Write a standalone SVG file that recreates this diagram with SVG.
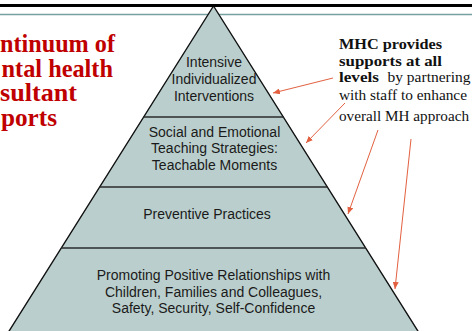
<svg xmlns="http://www.w3.org/2000/svg" width="472" height="331" viewBox="0 0 472 331">
  <style>
    .tier { fill: #bacfcd; stroke: none; }
    .edge { fill: none; stroke: #111; stroke-width: 1.4; }
    .sep { stroke: #2a2a2a; stroke-width: 1.4; }
    .lbl { font-family: "Liberation Sans", Arial, sans-serif; font-size: 14px; fill: #1a1a1a; text-anchor: middle; }
    .title { font-family: "Liberation Serif", "Times New Roman", serif; font-weight: bold; font-size: 24.5px; fill: #c00000; }
    .note { font-family: "Liberation Serif", "Times New Roman", serif; font-size: 14.5px; fill: #111; }
    .b { font-weight: bold; }
    .conn { stroke: #e2603f; stroke-width: 1; fill: none; marker-end: url(#head); }
  </style>
  <defs>
    <marker id="head" markerUnits="userSpaceOnUse" markerWidth="7" markerHeight="6" refX="7" refY="3" orient="auto">
      <path d="M0,0 L7,3 L0,6 Z" fill="#e2603f"/>
    </marker>
  </defs>

  <rect width="472" height="331" fill="#ffffff"/>

  <!-- header rule (thin) -->
  <line x1="0" y1="14.5" x2="472" y2="14.5" stroke="#77a0a0" stroke-width="1.5"/>

  <!-- title, clipped by the left edge -->
  <g id="title">
    <text class="title" x="0" y="51.5" textLength="115" lengthAdjust="spacingAndGlyphs">ntinuum of</text>
    <text class="title" x="1.5" y="76.5" textLength="111.5" lengthAdjust="spacingAndGlyphs">ntal health</text>
    <text class="title" x="0" y="101" textLength="77" lengthAdjust="spacingAndGlyphs">sultant</text>
    <text class="title" x="1" y="126" textLength="56" lengthAdjust="spacingAndGlyphs">ports</text>
  </g>

  <!-- pyramid tiers -->
  <g id="tier-intensive">
    <polygon class="tier" points="213.5,6 143.3,117 283.7,117"/>
    <text class="lbl" x="214" y="67">Intensive</text>
    <text class="lbl" x="214" y="84">Individualized</text>
    <text class="lbl" x="214" y="101">Interventions</text>
  </g>
  <g id="tier-social">
    <polygon class="tier" points="143.3,117 283.7,117 327.6,187 99.4,187"/>
    <text class="lbl" x="214.5" y="136.5">Social and Emotional</text>
    <text class="lbl" x="214.5" y="153">Teaching Strategies:</text>
    <text class="lbl" x="214.5" y="169.5">Teachable Moments</text>
  </g>
  <g id="tier-preventive">
    <polygon class="tier" points="99.4,187 327.6,187 365.9,248 61.1,248"/>
    <text class="lbl" x="207" y="218.5">Preventive Practices</text>
  </g>
  <g id="tier-relationships">
    <polygon class="tier" points="61.1,248 365.9,248 420.4,335 6.6,335"/>
    <text class="lbl" x="213.5" y="280">Promoting Positive Relationships with</text>
    <text class="lbl" x="213.5" y="296.5">Children, Families and Colleagues,</text>
    <text class="lbl" x="213.5" y="313">Safety, Security, Self-Confidence</text>
  </g>

  <!-- pyramid outline and tier separators -->
  <g id="outline">
    <polyline class="edge" points="6.6,335 213.5,6 420.4,335"/>
    <line class="sep" x1="143.3" y1="117" x2="283.7" y2="117"/>
    <line class="sep" x1="99.4" y1="187" x2="327.6" y2="187"/>
    <line class="sep" x1="61.1" y1="248" x2="365.9" y2="248"/>
  </g>

  <!-- header rule (thick) -->
  <line x1="0" y1="5.5" x2="472" y2="5.5" stroke="#000" stroke-width="3"/>

  <!-- side note -->
  <g id="note">
    <text class="note b" x="339" y="49" textLength="103" lengthAdjust="spacingAndGlyphs">MHC provides</text>
    <text class="note b" x="339" y="65.5" textLength="103" lengthAdjust="spacingAndGlyphs">supports at all</text>
    <text class="note b" x="339" y="82" textLength="40" lengthAdjust="spacingAndGlyphs">levels</text>
    <text class="note" x="387.5" y="82" textLength="83" lengthAdjust="spacingAndGlyphs">by partnering</text>
    <text class="note" x="339" y="99.5" textLength="128" lengthAdjust="spacingAndGlyphs">with staff to enhance</text>
    <text class="note" x="339" y="121" textLength="130" lengthAdjust="spacingAndGlyphs">overall MH approach</text>
  </g>

  <!-- connectors from the note to each tier -->
  <g id="connectors">
    <line class="conn" x1="333" y1="78" x2="273" y2="93"/>
    <line class="conn" x1="345" y1="103" x2="306" y2="143"/>
    <line class="conn" x1="378" y1="130" x2="348" y2="214"/>
    <line class="conn" x1="411" y1="139" x2="395" y2="289"/>
  </g>
</svg>
